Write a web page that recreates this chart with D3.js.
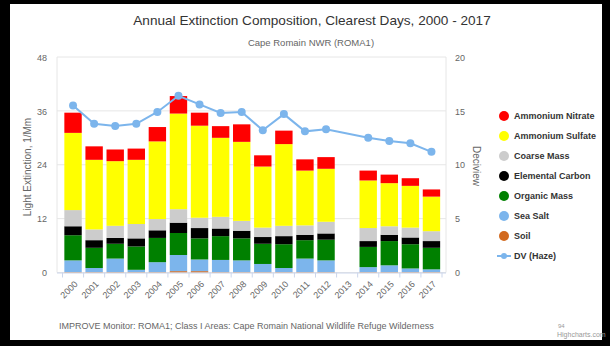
<!DOCTYPE html>
<html><head><meta charset="utf-8">
<script src="https://cdn.jsdelivr.net/npm/d3@7"></script>
<style>body{margin:0;background:#000;}svg{display:block;font-family:"Liberation Sans",Arial,sans-serif;}</style>
</head><body>
<svg id="c" width="610" height="346"></svg>
<script>
const years = ["2000","2001","2002","2003","2004","2005","2006","2007","2008","2009","2010","2011","2012","2013","2014","2015","2016","2017"];
const soil     = [0.1,0.1,0.1,0.1,0.1,0.3,0.3,0.1,0.1,0.1,0.1,0.1,0.1,null,0.1,0.1,0.1,0.1];
const seaSalt  = [2.6,0.9,3.0,0.5,2.2,3.6,2.6,2.7,2.6,1.8,0.9,3.0,2.6,null,1.1,1.5,0.8,0.6];
const organic  = [5.6,4.5,3.3,5.2,5.4,4.9,4.7,5.3,4.9,4.5,5.3,4.1,4.6,null,4.5,5.4,5.4,4.8];
const elemCarb = [2.0,1.7,1.3,1.8,1.7,2.3,2.3,1.7,1.7,1.5,1.8,1.2,1.4,null,1.3,1.4,1.5,1.5];
const coarse   = [3.6,2.4,2.7,3.2,2.5,3.0,2.3,2.6,2.2,2.1,2.3,2.1,2.6,null,2.9,1.9,2.2,2.2];
const sulfate  = [17.2,15.5,14.4,14.3,17.3,21.3,20.5,17.6,17.6,13.6,18.2,12.2,11.8,null,10.6,9.6,9.3,7.7];
const nitrate  = [4.5,3.0,2.6,2.5,3.2,3.9,2.9,2.6,3.9,2.5,3.0,2.5,2.6,null,2.2,1.9,1.7,1.6];
const dvHaze   = [15.5,13.8,13.6,13.8,14.9,16.4,15.6,14.8,14.9,13.2,14.7,13.1,13.3,null,12.5,12.2,12.0,11.2];
const leftTicks = [0,12,24,36,48];
const rightTicks = [0,5,10,15,20];

const seriesNames = ["Soil","Sea Salt","Organic Mass","Elemental Carbon","Coarse Mass","Ammonium Sulfate","Ammonium Nitrate"];
const seriesVals = [soil,seaSalt,organic,elemCarb,coarse,sulfate,nitrate];
const colors = {"Ammonium Nitrate":"#ff0000","Ammonium Sulfate":"#ffff00","Coarse Mass":"#cccccc","Elemental Carbon":"#000000","Organic Mass":"#008000","Sea Salt":"#7cb5ec","Soil":"#d2691e"};
const dvColor = "#7cb5ec";

const svg = d3.select("#c");
svg.append("rect").attr("x",10).attr("y",4).attr("width",592).attr("height",336).attr("fill","#fff");

const plot = {l:57, r:446, t:57, b:272.5};
const x = d3.scaleBand().domain(years).range([62.5,442]).paddingInner(0.175).paddingOuter(0.0875);
const y = d3.scaleLinear().domain([0,48]).range([plot.b, plot.t]);
const y2 = d3.scaleLinear().domain([0,20]).range([plot.b, plot.t]);

// grid
svg.append("g").selectAll("line").data(leftTicks).join("line")
  .attr("x1",plot.l).attr("x2",plot.r).attr("y1",d=>y(d)).attr("y2",d=>y(d))
  .attr("stroke","#e6e6e6").attr("stroke-width",1);
svg.append("line").attr("x1",plot.l).attr("x2",plot.l).attr("y1",plot.t).attr("y2",plot.b).attr("stroke","#e6e6e6");
svg.append("line").attr("x1",plot.r).attr("x2",plot.r).attr("y1",plot.t).attr("y2",plot.b).attr("stroke","#e6e6e6");

// left axis
const la = svg.append("g").attr("transform",`translate(${plot.l-10},0)`)
  .call(d3.axisLeft(y).tickValues(leftTicks).tickSize(0).tickPadding(0));
la.select(".domain").remove();
la.selectAll("text").attr("fill","#666").style("font-size","9px").attr("dy","0.35em");
// right axis
const ra = svg.append("g").attr("transform",`translate(${plot.r+9},0)`)
  .call(d3.axisRight(y2).tickValues(rightTicks).tickSize(0).tickPadding(0));
ra.select(".domain").remove();
ra.selectAll("text").attr("fill","#666").style("font-size","9px").attr("dy","0.35em");

// stacked bars
const table = years.map((yr,i)=>{const o={year:yr}; seriesNames.forEach((n,k)=>o[n]=seriesVals[k][i]||0); return o;});
const stack = d3.stack().keys(seriesNames)(table);
svg.append("g").selectAll("g").data(stack).join("g").attr("fill",d=>colors[d.key])
  .selectAll("rect").data(d=>d.filter(p=>p[1]-p[0]>0)).join("rect")
  .attr("x",d=>x(d.data.year)).attr("width",x.bandwidth())
  .attr("y",d=>y(d[1])).attr("height",d=>y(d[0])-y(d[1]));

// x axis
svg.append("line").attr("x1",plot.l).attr("x2",plot.r).attr("y1",plot.b+0.5).attr("y2",plot.b+0.5).attr("stroke","#ccd6eb");
const step = x.step();
const edges = years.map(d=>x(d)-(step-x.bandwidth())/2).concat([x(years[years.length-1])+x.bandwidth()+(step-x.bandwidth())/2]);
svg.append("g").selectAll("line").data(edges).join("line")
  .attr("x1",d=>d).attr("x2",d=>d).attr("y1",plot.b).attr("y2",plot.b+5).attr("stroke","#ccd6eb");
svg.append("g").selectAll("text").data(years).join("text")
  .attr("transform",d=>`translate(${x(d)+x.bandwidth()/2+3},${plot.b+10}) rotate(-45)`)
  .attr("text-anchor","end").attr("dy","0.35em").attr("fill","#666").style("font-size","9px").text(d=>d);

// DV line
const pts = years.map((yr,i)=>({year:yr,v:dvHaze[i]})).filter(d=>d.v!=null);
svg.append("path").datum(pts).attr("fill","none").attr("stroke",dvColor).attr("stroke-width",2)
  .attr("d",d3.line().x(d=>x(d.year)+x.bandwidth()/2).y(d=>y2(d.v)));
svg.append("g").selectAll("circle").data(pts).join("circle")
  .attr("cx",d=>x(d.year)+x.bandwidth()/2).attr("cy",d=>y2(d.v)).attr("r",4).attr("fill",dvColor);

// titles
svg.append("text").attr("x",312).attr("y",25).attr("text-anchor","middle").attr("fill","#333").style("font-size","13.6px").text("Annual Extinction Composition, Clearest Days, 2000 - 2017");
svg.append("text").attr("x",311).attr("y",46).attr("text-anchor","middle").attr("fill","#666").style("font-size","9.5px").text("Cape Romain NWR (ROMA1)");
svg.append("text").attr("transform","translate(31,167) rotate(-90)").attr("text-anchor","middle").attr("fill","#666").style("font-size","10px").text("Light Extinction, 1/Mm");
svg.append("text").attr("transform","translate(473,166) rotate(90)").attr("text-anchor","middle").attr("fill","#666").style("font-size","10px").text("Deciview");
svg.append("text").attr("x",59).attr("y",329).attr("fill","#666").style("font-size","9px").text("IMPROVE Monitor: ROMA1; Class I Areas: Cape Romain National Wildlife Refuge Wilderness");
svg.append("text").attr("x",558).attr("y",328).attr("fill","#999").style("font-size","6px").text("94");
svg.append("text").attr("x",557).attr("y",337).attr("fill","#999").style("font-size","7px").text("Highcharts.com");

// legend
const legendItems = ["Ammonium Nitrate","Ammonium Sulfate","Coarse Mass","Elemental Carbon","Organic Mass","Sea Salt","Soil"];
const lg = svg.append("g");
legendItems.forEach((n,i)=>{
  const yy = 116 + i*20;
  lg.append("circle").attr("cx",504).attr("cy",yy).attr("r",5).attr("fill",colors[n]);
  lg.append("text").attr("x",514).attr("y",yy).attr("dy","0.35em").attr("fill","#333").style("font-size","9px").style("font-weight","bold").text(n);
});
const dvY = 116 + 7*20;
lg.append("line").attr("x1",497).attr("x2",511).attr("y1",dvY).attr("y2",dvY).attr("stroke",dvColor).attr("stroke-width",2);
lg.append("circle").attr("cx",504).attr("cy",dvY).attr("r",3).attr("fill",dvColor);
lg.append("text").attr("x",514).attr("y",dvY).attr("dy","0.35em").attr("fill","#333").style("font-size","9px").style("font-weight","bold").text("DV (Haze)");
</script>
</body></html>
